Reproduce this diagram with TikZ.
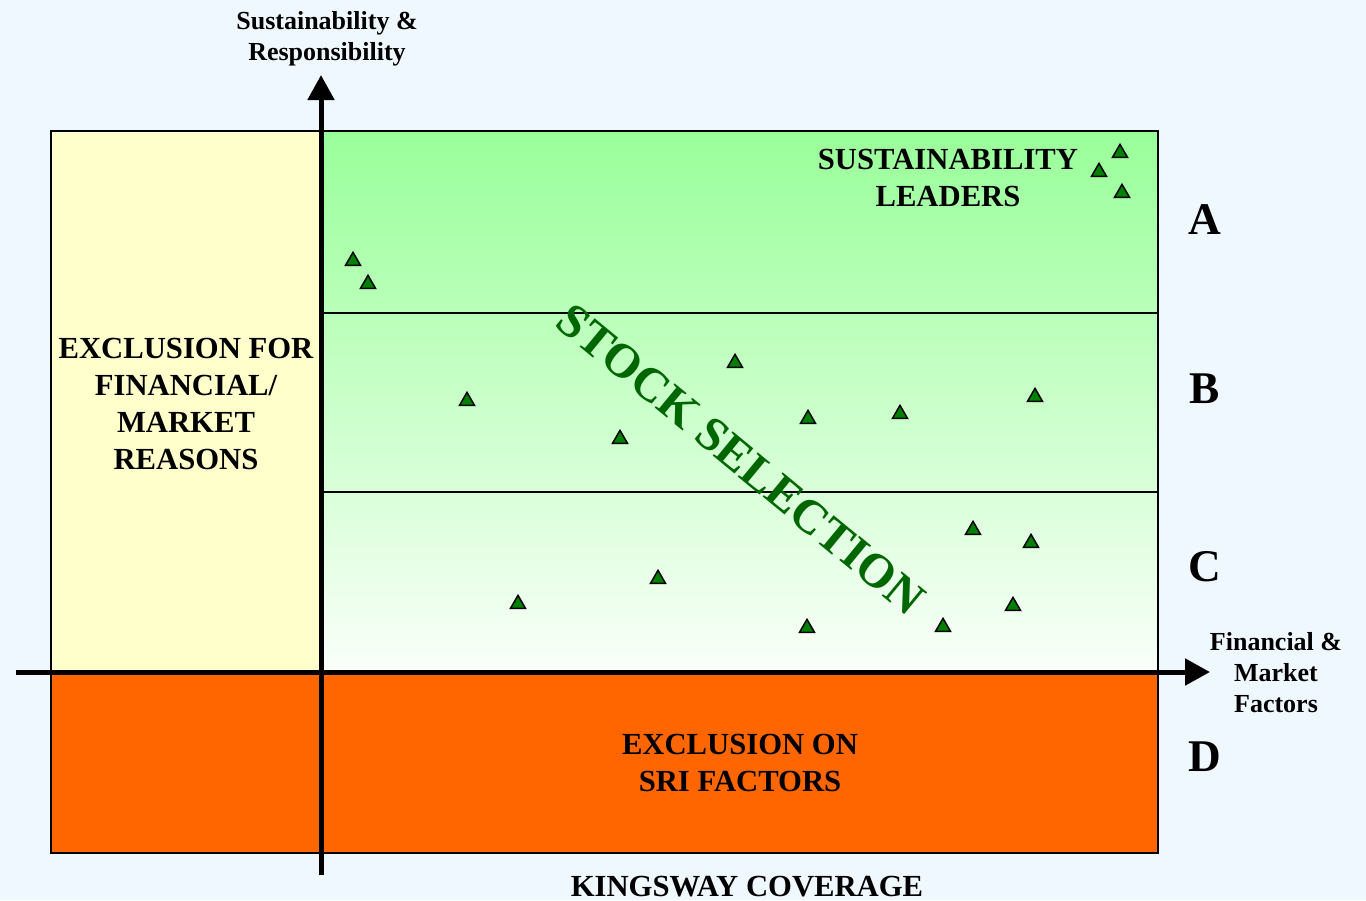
\documentclass[tikz,border=0pt]{standalone}
\usepackage{fontspec}
\setmainfont{Liberation Serif}
\usepackage{tikz}
\usetikzlibrary{arrows.meta,shapes.geometric}
\definecolor{bgblue}{RGB}{240,248,255}
\definecolor{paleyellow}{RGB}{255,255,204}
\definecolor{leafgreen}{RGB}{153,255,153}
\definecolor{mintwhite}{RGB}{250,255,250}
\definecolor{sriorange}{RGB}{255,102,0}
\definecolor{stockgreen}{RGB}{0,128,0}
\definecolor{darkgreen}{RGB}{0,102,0}
\tikzset{>={Triangle[length=18.75pt,width=19.5pt]}}
\tikzset{
  zone/.style={draw,line width=1.5pt},
  axis/.style={->,line width=3.75pt},
  boxtext/.style={font=\fontsize{23}{27.75}\selectfont\bfseries,align=center},
  axistext/.style={font=\fontsize{19.5}{23.25}\selectfont\bfseries,align=center},
  grade/.style={font=\fontsize{34}{40}\selectfont\bfseries},
  stock/.style={regular polygon,regular polygon sides=3,draw,fill=stockgreen,line width=1.1pt,minimum size=13pt,inner sep=0pt}
}

\begin{document}
\begin{tikzpicture}[x=0.75pt,y=-0.75pt]
\fill[bgblue] (0,0) rectangle (1366,900);
\useasboundingbox (0,0) rectangle (1366,900);
% zones
\fill[paleyellow] (51,131) rectangle (321,672);
\draw[zone] (51,131) rectangle (321,672);
\shade[top color=leafgreen,bottom color=mintwhite] (321,131) rectangle (1158,672);
\draw[zone] (321,131) rectangle (1158,672);
\draw[line width=1.5pt] (321,313) -- (1158,313);
\draw[line width=1.5pt] (321,492) -- (1158,492);
\fill[sriorange] (51,672) rectangle (1158,853);
\draw[zone] (51,672) rectangle (1158,853);
% axes
\coordinate (ybot) at (321,875);
\coordinate (ytop) at (321,75);
\coordinate (xleft) at (16,672);
\coordinate (xright) at (1210,672);
\draw[axis] (ybot) -- (ytop);
\draw[axis] (xleft) -- (xright);
% labels
\node[axistext] (ylabel) at (327,39) {Sustainability \&\\Responsibility};
\node[axistext] (xlabel) at (1276,673) {Financial \&\\Market\\Factors};
\node[boxtext] (leaders) at (948,178) {SUSTAINABILITY\\LEADERS};
\node[boxtext] (finexcl) at (186,404) {EXCLUSION FOR\\FINANCIAL/\\MARKET\\REASONS};
\node[boxtext] (sriexcl) at (740,763) {EXCLUSION ON\\SRI FACTORS};
\node[boxtext] (coverage) at (747,887) {KINGSWAY COVERAGE};
\node[grade] (A) at (1205,220) {A};
\node[grade] (B) at (1205,389) {B};
\node[grade] (C) at (1205,567) {C};
\node[grade] (D) at (1205,757) {D};
\node[font=\fontsize{36}{44}\selectfont\bfseries,text=darkgreen,rotate=-39.5] (selection) at (741,459) {STOCK SELECTION};
% stocks
\node[stock] (s1) at (1120,153) {};
\node[stock] (s2) at (1099,172) {};
\node[stock] (s3) at (1122,193) {};
\node[stock] (s4) at (353,261) {};
\node[stock] (s5) at (368,284) {};
\node[stock] (s6) at (735,363) {};
\node[stock] (s7) at (467,401) {};
\node[stock] (s8) at (1035,397) {};
\node[stock] (s9) at (808,419) {};
\node[stock] (s10) at (900,414) {};
\node[stock] (s11) at (620,439) {};
\node[stock] (s12) at (973,530) {};
\node[stock] (s13) at (1031,543) {};
\node[stock] (s14) at (658,579) {};
\node[stock] (s15) at (518,604) {};
\node[stock] (s16) at (1013,606) {};
\node[stock] (s17) at (807,628) {};
\node[stock] (s18) at (943,627) {};
\end{tikzpicture}
\end{document}
